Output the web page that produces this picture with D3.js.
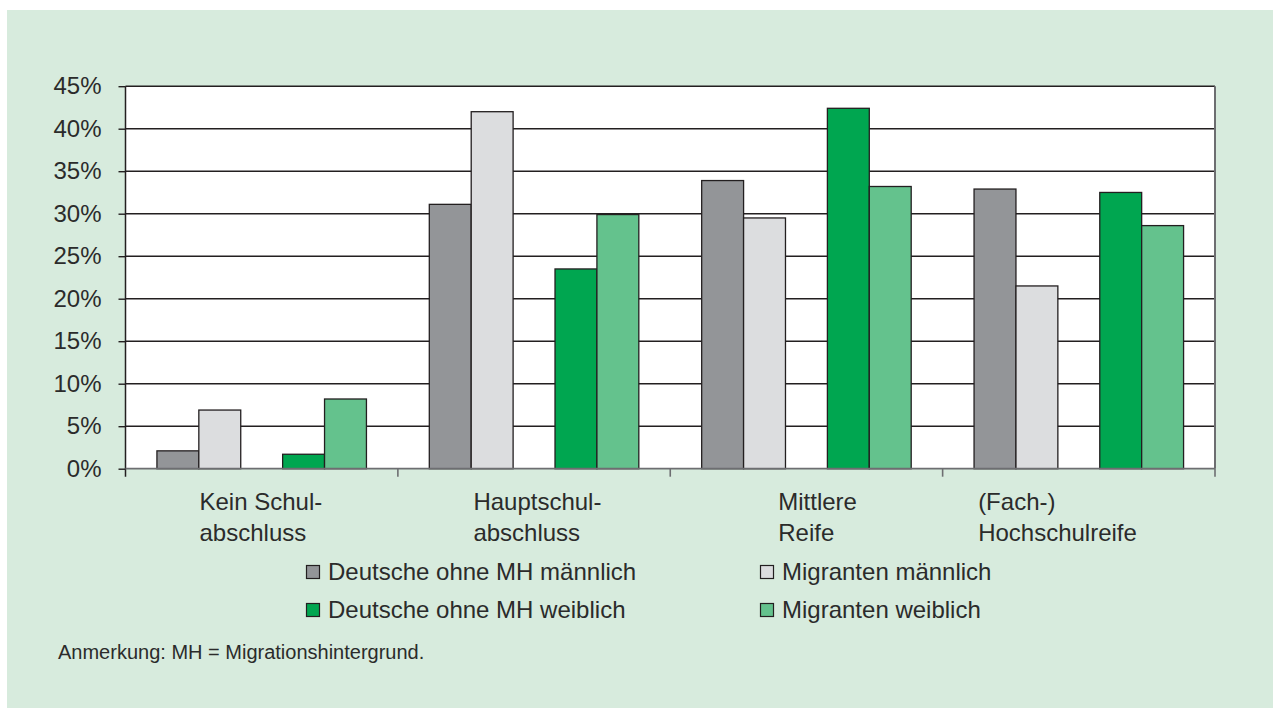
<!DOCTYPE html>
<html>
<head>
<meta charset="utf-8">
<script src="https://cdn.jsdelivr.net/npm/d3@7"></script>
<style>
  html, body { margin: 0; padding: 0; background: #fff; }
  svg text { font-family: "Liberation Sans", Arial, sans-serif; fill: #2b2b2b; }
</style>
</head>
<body>
<svg id="chart" width="1273" height="709"></svg>
<script>
(function () {
    'use strict';

    // data (percent)
    var categories = [
        ["Kein Schul-", "abschluss"],
        ["Hauptschul-", "abschluss"],
        ["Mittlere", "Reife"],
        ["(Fach-)", "Hochschulreife"]
    ];
    var seriesNames = ["Deutsche ohne MH männlich", "Migranten männlich", "Deutsche ohne MH weiblich", "Migranten weiblich"];
    var deutscheMaennlich = [2.1, 31.1, 33.9, 32.9];
    var migrantenMaennlich = [6.9, 42.0, 29.5, 21.5];
    var deutscheWeiblich = [1.7, 23.5, 42.4, 32.5];
    var migrantenWeiblich = [8.2, 29.9, 33.2, 28.6];
    var yTicks = [0, 5, 10, 15, 20, 25, 30, 35, 40, 45];
    var note = "Anmerkung: MH = Migrationshintergrund.";

    var colors = ["#939598", "#dcdddf", "#00a650", "#64c28d"];
    var seriesValues = [deutscheMaennlich, migrantenMaennlich, deutscheWeiblich, migrantenWeiblich];
    // slot order inside a group: two male bars, an empty slot, two female bars
    var slots = [0, 1, "gap", 2, 3];
    var labelOffset = [74, 75.5, 108, 35.5];

    var svg = d3.select('#chart');
    var left = 125.5, right = 1215, top = 86.2, bottom = 468.7;

    svg.append('rect').attr('x', 7).attr('y', 10).attr('width', 1266).attr('height', 698).attr('fill', '#d7ebdd');
    svg.append('rect').attr('x', left).attr('y', top).attr('width', right - left).attr('height', bottom - top).attr('fill', '#fff');

    var catKeys = categories.map(function (c, i) { return i; });
    var x0 = d3.scaleBand().domain(catKeys).range([left, right]);
    var x1 = d3.scaleBand().domain(slots).range([0, x0.bandwidth()]).paddingInner(0).paddingOuter(0.75);
    var y = d3.scaleLinear().domain([0, 45]).range([bottom, top]);

    // gridlines
    svg.append('g').selectAll('line').data(yTicks.filter(function (t) { return t > 0; })).enter().append('line')
        .attr('x1', left).attr('x2', right)
        .attr('y1', function (d) { return y(d); }).attr('y2', function (d) { return y(d); })
        .attr('stroke', '#231f20').attr('stroke-width', 1.4);

    // bars
    var bars = [];
    seriesValues.forEach(function (vals, s) {
        vals.forEach(function (v, c) { bars.push({s: s, c: c, v: v}); });
    });
    svg.append('g').selectAll('rect').data(bars).enter().append('rect')
        .attr('x', function (d) { return x0(d.c) + x1(d.s); })
        .attr('width', x1.bandwidth())
        .attr('y', function (d) { return y(d.v); })
        .attr('height', function (d) { return bottom - y(d.v); })
        .attr('fill', function (d) { return colors[d.s]; })
        .attr('stroke', '#231f20').attr('stroke-width', 1.3);

    // right frame
    svg.append('line').attr('x1', right).attr('x2', right).attr('y1', top).attr('y2', bottom)
        .attr('stroke', '#6d6e71').attr('stroke-width', 2);

    // y axis
    var yAxis = d3.axisLeft(y).tickValues(yTicks).tickSize(7).tickPadding(17)
        .tickFormat(function (d) { return d + '%'; });
    var yg = svg.append('g').attr('transform', 'translate(' + left + ',0)').call(yAxis);
    yg.select('.domain').attr('stroke', '#231f20').attr('stroke-width', 1.5).attr('d', 'M0,' + top + 'V' + (bottom + 8));
    yg.selectAll('.tick line').attr('stroke', '#231f20').attr('stroke-width', 1.4);
    yg.selectAll('.tick text').attr('font-size', 24).attr('fill', '#2b2b2b')
        .attr('font-family', '"Liberation Sans", Arial, sans-serif');

    // x axis line + category boundary ticks
    svg.append('line').attr('x1', left).attr('x2', right).attr('y1', bottom).attr('y2', bottom)
        .attr('stroke', '#6d6e71').attr('stroke-width', 1.8);
    var bounds = catKeys.slice(1).map(function (k) { return x0(k); }).concat([right]);
    svg.append('g').selectAll('line').data(bounds).enter().append('line')
        .attr('x1', function (d) { return d; }).attr('x2', function (d) { return d; })
        .attr('y1', bottom).attr('y2', bottom + 8)
        .attr('stroke', '#6d6e71').attr('stroke-width', 1.6);

    // category labels
    var catText = svg.append('g').selectAll('text').data(categories).enter().append('text')
        .attr('x', function (d, i) { return x0(i) + labelOffset[i]; })
        .attr('y', 510)
        .attr('font-size', 24);
    catText.selectAll('tspan').data(function (d) { return d; }).enter().append('tspan')
        .attr('x', function () { return d3.select(this.parentNode).attr('x'); })
        .attr('dy', function (d, i) { return i === 0 ? 0 : 31; })
        .text(function (d) { return d; });

    // legend (2 x 2)
    var legendPos = [[306, 565], [760, 565], [306, 603], [760, 603]];
    var lg = svg.append('g').selectAll('g').data(seriesNames).enter().append('g')
        .attr('transform', function (d, i) { return 'translate(' + legendPos[i][0] + ',' + legendPos[i][1] + ')'; });
    lg.append('rect').attr('x', 0.5).attr('y', 0.5).attr('width', 13).attr('height', 13)
        .attr('fill', function (d, i) { return colors[i]; })
        .attr('stroke', '#231f20').attr('stroke-width', 1.2);
    lg.append('text').attr('x', 22).attr('y', 14.5).attr('font-size', 24).text(function (d) { return d; });

    svg.append('text').attr('x', 58).attr('y', 659).attr('font-size', 20).text(note);
})();
</script>
</body>
</html>
